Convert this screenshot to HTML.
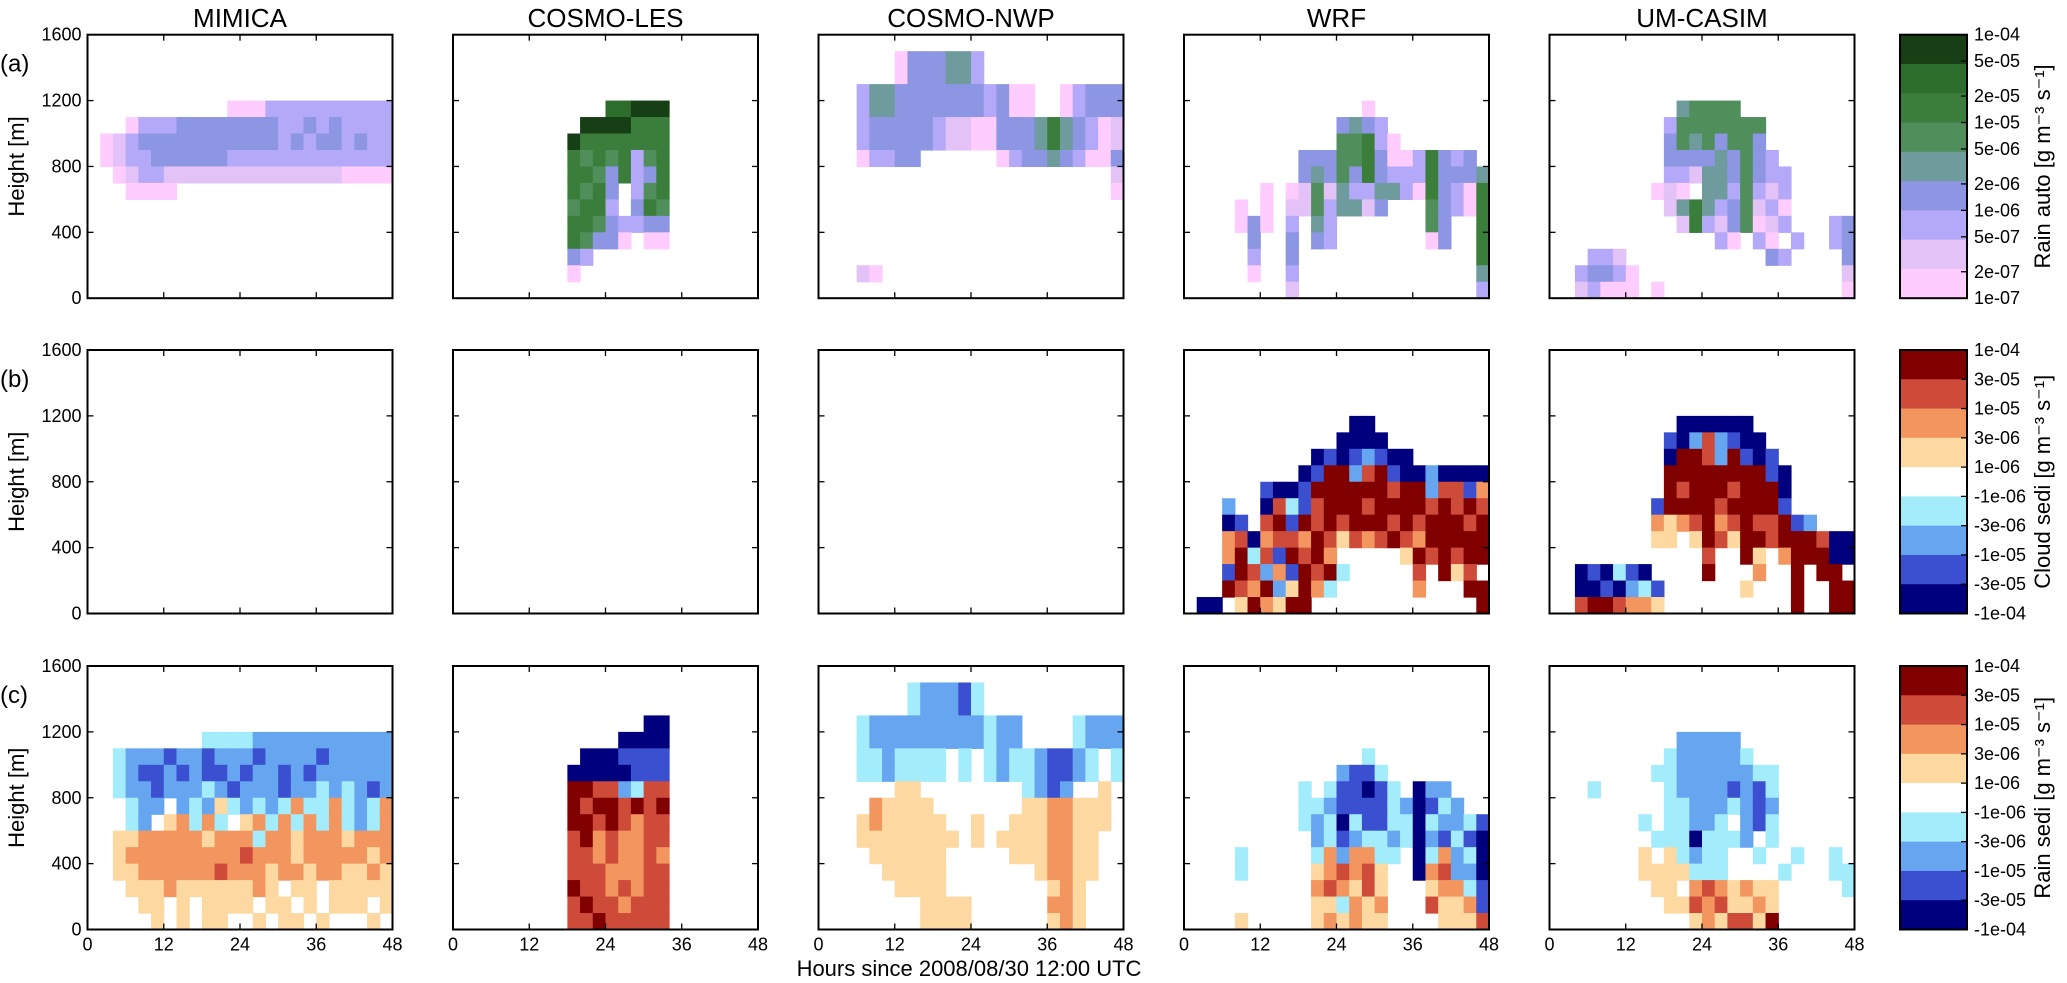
<!DOCTYPE html>
<html><head><meta charset="utf-8"><style>
html,body{margin:0;padding:0;background:#fff;}
svg{display:block;font-family:"Liberation Sans",sans-serif;}
</style></head><body>
<svg id="fig" width="2067" height="983" viewBox="0 0 2067 983" xmlns="http://www.w3.org/2000/svg"></svg>
<script>
const models=["MIMICA","COSMO-LES","COSMO-NWP","WRF","UM-CASIM"];
const rowLetters=["(a)","(b)","(c)"];
const cbarTitles=["Rain auto [g m\u207B\u00B3 s\u207B\u00B9]","Cloud sedi [g m\u207B\u00B3 s\u207B\u00B9]","Rain sedi [g m\u207B\u00B3 s\u207B\u00B9]"];
const hourTicks=[0,12,24,36,48];
const heightTicks=[0,400,800,1200,1600];
const autoTickVals=[1e-4,5e-5,2e-5,1e-5,5e-6,2e-6,1e-6,5e-7,2e-7,1e-7];
const autoTickLabels=["1e-04","5e-05","2e-05","1e-05","5e-06","2e-06","1e-06","5e-07","2e-07","1e-07"];
const sediTickLabels=["1e-04","3e-05","1e-05","3e-06","1e-06","-1e-06","-3e-06","-1e-05","-3e-05","-1e-04"];
const autoLevels=["9","8","7","6","5","4","3","2","1"];
const sediLevels=["A","B","C","D","w","d","c","b","a"];
const cellHours=2, cellMeters=100;

const mimicaA=["","","","","000000000001113333333333","000133344444444334343333","012344444444444343443433","012334444443333333333333","001233222222222222221111","000111100000000000000000","","","","","",""];
const lesA=["","","","","000000000000889990000000","000000000099997770000000","000000000977777770000000","000000000767673670000000","000000000776473470000000","000000000767403670000000","000000000677304760000000","000000000776433440000000","000000000764410110000000","000000000430000000000000","000000000100000000000000",""];
const nwpA=["","000000144455300000000000","000000144455300000000000","000355444444434110013444","000355444444434110013444","000344444322114445754312","000344444322114445754312","000133440000001344543114","000000000000000000000002","000000000000000000000001","","","","","000210000000000000000000",""];
const wrfA=["","","","","000000000000001000000000","000000000000454300000000","000000000000667310000000","000000000444667411374340","000000000454647433374445","000000101262533553174317","000010102263552400064317","000014103053000000064007","000004004043000000014007","000003004000000000000007","000001003000000000000005","000000002000000000000003"];
const umA=["","","","","000000000056666000000000","000000000366666660000000","000000000465646640000000","000000000444454643000000","000000000332554643300000","000000001210553632300000","000000000257534623100000","000000000027324612300034","000000000000031031030034","000332000000000004300004","003443100000000000000002","002311101000000000000001"];

const wrfB=["","","","","0000000000000aa000000000","000000000000aaaa00000000","0000000000ababcbaa000000","000000000abAAcBAbaacaaaa","000000baabAAAAAABAAcBBbC","000c00aBdbBAAABAAAABABAB","000ab0BAbABABAAABABAAABA","000CBaCBBCABDBCBABCAAAAA","000CAdBbABAC00000DABABAA","000bABcCbABAd00000B0ADB0","000ABCAcDACd000000C000AA","0aa0DACDAA0000000000000A"];
const umB=["","","","","0000000000aaaaaa00000000","000000000bacBcbaa0000000","000000000aAABcAbab000000","000000000AAAAAAAAba00000","000000000ABAAABAAAa00000","00000000bAAAABAAAAb00000","00000000CDCBACBABBAbc000","00000000DD0DABDAABAAABaa","000000000000B00AD0CAAAaa","00abadba0000A000C00A0AA0","00aabacdb000000D000A00AA","00BAABCCD0000000000A00AA"];

const mimicaC=["","","","","000000000ddddccccccccccc","00dcccbccbcccbccccbccccc","00dcbbcbcbbcbccbcbcccccc","00dccbcccdcbcccbccdcdcbc","000dcc0cdcDdcdcdCddCdcdC","000dc0DCdCd0DCdCdCdCdcdC","00DDCCCCCDCCCdCCDCCCDCCC","00DCCCCCCCCCBCCCDCCCCCDC","00DDCCCCCCBCCCDCCDCCDDCD","000DDDCDDDDDDCD0DD0DDDDD","0000DD0D0DDDD0DD0D0DDD0D","00000D0D0DD00D0DD0D000D0"];
const lesC=["","","","000000000000000aa0000000","0000000000000aaaa0000000","0000000000aaabbbb0000000","000000000aaaaabbb0000000","000000000AABBcdBB0000000","000000000ABAABABA0000000","000000000AABABCBB0000000","000000000BACBCCBB0000000","000000000BBCBCCBC0000000","000000000BBBCCCBB0000000","000000000ABBCBCBB0000000","000000000BABBCBBB0000000","000000000BBABBBBB0000000"];
const nwpC=["","0000000dcccbd00000000000","0000000dcccbd00000000000","000dcccccccccdcc0000dccc","000dcccccccccdcc0000dccc","000ddcdddd0d0dcddcbbcd0d","000ddcdddd0d0dcddcbbcd0d","000000DD00000000dcbc00D0","0000CDDDD0000000DDCCDDD0","000DCDDDDD00D00DDDCCDDD0","000DDDDDDDD0D0DDDDCCDD00","0000DDDDDD00000DDDCCDD00","00000DDDDD0000000DCCDD00","000000DDDD00000000DCD000","00000000DDDD000000CCD000","00000000DDDD000000DCD000"];
const wrfC=["","","","","","00000000000000d000000000","000000000000cbbd00000000","000000000d0dbbabd0acc000","000000000ddcbbbbdcabdc00","000000000dcdadbbddadccdb","0000000000cdbcddcdacbdba","0000d00000dCcCCdd0adCcda","0000d00000DCBCBD00aCBcca","0000000000CBCDBD000DCCdb","0000000000DDdCDC000BDDCb","0000D00000DCDCDD0000DDDB"];
const umC=["","","","","0000000000ccccc000000000","000000000dcccccd00000000","00000000ddccccccdd000000","000d00000dccccbcbd000000","000000000ddcccdcbc000000","0000000d0ddccd0cbd000000","00000000dddadddc0d000000","0000000D0Ddcdd00d00d00d0","0000000DDDDddd0000d000dd","00000000DD0CBCDCDD00000d","000000000DDBCBDDCD000000","00000000000DCDBBDA000000"];

const panelGrids=[[mimicaA,lesA,nwpA,wrfA,umA],[null,null,null,wrfB,umB],[mimicaC,lesC,nwpC,wrfC,umC]];

const palette={"1":"#ffccff","2":"#e2c2f7","3":"#b4a8f8","4":"#8c96e3","5":"#6e9b9b","6":"#508f5c","7":"#3b7e3b","8":"#2c6d2c","9":"#163f16",
"A":"#800000","B":"#cf4b39","C":"#f2955f","D":"#fdd8a0","w":"#ffffff","d":"#a3ecfb","c":"#66a6f0","b":"#3a50d0","a":"#00007f"};

const NS="http://www.w3.org/2000/svg";
const svg=document.getElementById("fig");
const PW=305, PH=263.5;
const rowTops=[34.7,350,666];
function panelLeft(i){return 87.5+i*365.5;}
function xs(i,h){return panelLeft(i)+h/48*PW;}
function ys(r,m){return rowTops[r]+PH-m/1600*PH;}
function mk(tag,attrs,parent){const e=document.createElementNS(NS,tag);for(const k in attrs)e.setAttribute(k,attrs[k]);(parent||svg).appendChild(e);return e;}
function txt(s,attrs,parent){const e=mk("text",attrs,parent);e.textContent=s;return e;}

models.forEach((m,i)=>{
  const t=txt(m,{x:panelLeft(i)+PW/2,y:27,"font-size":26,"text-anchor":"middle",fill:"#000"});
  
  
});

for(let r=0;r<3;r++){
  const rl=txt(rowLetters[r],{x:0,y:rowTops[r]+37,"font-size":24,fill:"#000"});
  
  
  const yl=txt("Height [m]",{x:0,y:0,"font-size":22,"text-anchor":"middle",fill:"#000",transform:"translate(24,"+(rowTops[r]+PH/2)+") rotate(-90)"});
  
  
  for(let i=0;i<5;i++){
    const g=mk("g",{});
    
    
    const grid=panelGrids[r][i];
    if(grid){
      for(let k=0;k<grid.length;k++){
        const s=grid[k];
        const top=1600-k*cellMeters, bot=1600-(k+1)*cellMeters;
        for(let c=0;c<Math.min(s.length,24);c++){
          const ch=s[c];
          if(ch==="0"||!palette[ch])continue;
          const x0=xs(i,c*cellHours), x1=xs(i,(c+1)*cellHours);
          const y0=ys(r,top), y1=ys(r,bot);
          const cell=mk("rect",{x:x0.toFixed(2),y:y0.toFixed(2),width:(x1-x0+0.6).toFixed(2),height:(y1-y0+0.6).toFixed(2),fill:palette[ch]},g);
          
          
        }
      }
    }
    const L=panelLeft(i),T=rowTops[r];
    const fr=mk("rect",{x:L,y:T,width:PW,height:PH,fill:"none",stroke:"#000","stroke-width":2},g);
    
    
    hourTicks.forEach(h=>{
      const x=xs(i,h);
      mk("line",{x1:x,x2:x,y1:T+PH,y2:T+PH-6,stroke:"#000","stroke-width":1.3},g);
      mk("line",{x1:x,x2:x,y1:T,y2:T+6,stroke:"#000","stroke-width":1.3},g);
      if(r===2){
        const tl=txt(String(h),{x:x,y:T+PH+21,"font-size":18,"text-anchor":"middle",fill:"#000"},g);
        
        
      }
    });
    heightTicks.forEach(m=>{
      const y=ys(r,m);
      mk("line",{x1:L,x2:L+6,y1:y,y2:y,stroke:"#000","stroke-width":1.3},g);
      mk("line",{x1:L+PW,x2:L+PW-6,y1:y,y2:y,stroke:"#000","stroke-width":1.3},g);
      if(i===0){
        const tl=txt(String(m),{x:L-6,y:y+6,"font-size":18,"text-anchor":"end",fill:"#000"},g);
        
        
      }
    });
  }
  const cb=mk("g",{});
  
  
  const CX=1900,CW=67,T=rowTops[r];
  const levels=r===0?autoLevels:sediLevels;
  const bh=PH/levels.length;
  levels.forEach((lv,k)=>{
    const band=mk("rect",{x:CX,y:(T+k*bh).toFixed(2),width:CW,height:(bh+0.5).toFixed(2),fill:palette[lv]},cb);
    
    
  });
  mk("rect",{x:CX,y:T,width:CW,height:PH,fill:"none",stroke:"#000","stroke-width":2},cb);
  const labels=r===0?autoTickLabels:sediTickLabels;
  labels.forEach((lab,k)=>{
    let y;
    if(r===0){y=T+(Math.log10(1e-4)-Math.log10(autoTickVals[k]))/3*PH;}
    else{y=T+k*PH/(labels.length-1);}
    mk("line",{x1:CX+CW,x2:CX+CW-6,y1:y,y2:y,stroke:"#000","stroke-width":1.3},cb);
    const tl=txt(lab,{x:CX+CW+7,y:y+6,"font-size":18,fill:"#000"},cb);
    
    
  });
  const ct=txt(cbarTitles[r],{x:0,y:0,"font-size":22,"text-anchor":"middle",fill:"#000",transform:"translate(2050,"+(T+PH/2)+") rotate(-90)"},cb);
  
  
}
const xl=txt("Hours since 2008/08/30 12:00 UTC",{x:969,y:976,"font-size":22,"text-anchor":"middle",fill:"#000"});


</script>
</body></html>
